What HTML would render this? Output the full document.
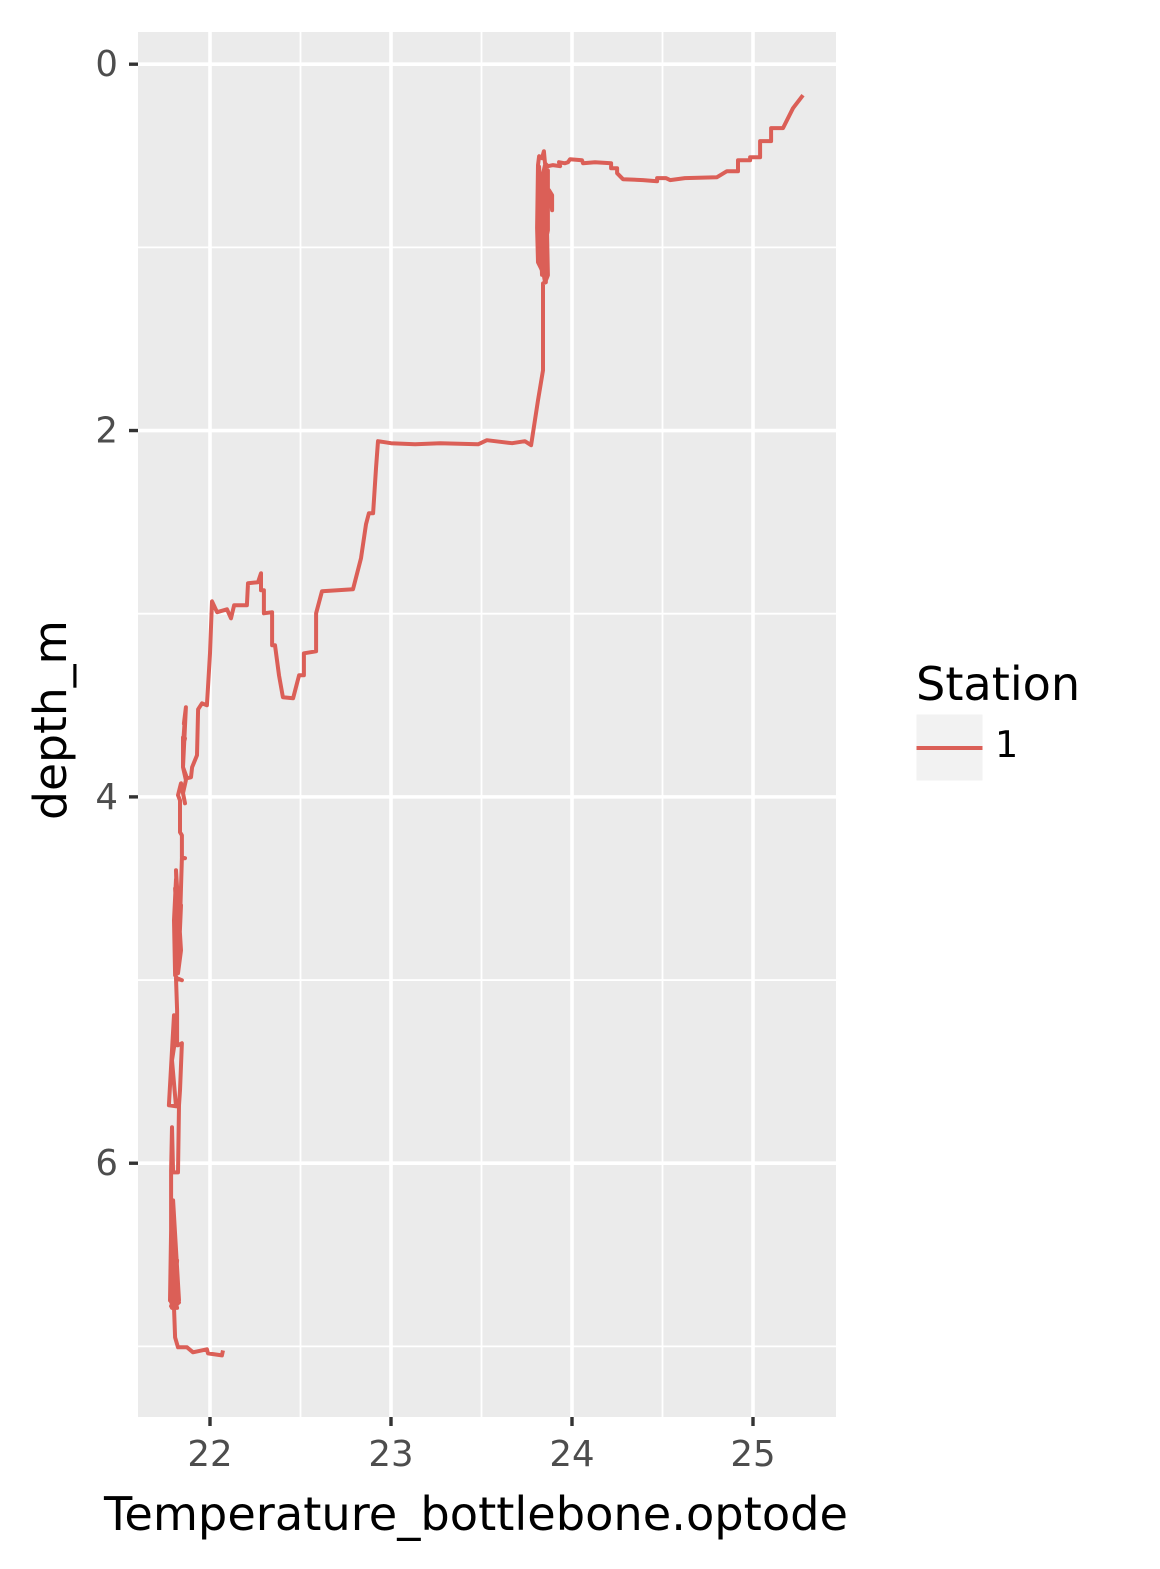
<!DOCTYPE html>
<html>
<head>
<meta charset="utf-8">
<title>Temperature vs depth</title>
<style>
html,body{margin:0;padding:0;background:#fff;}
svg{display:block;font-family:"DejaVu Sans","Liberation Sans",sans-serif;}
</style>
</head>
<body>
<svg id="chart" xmlns="http://www.w3.org/2000/svg" width="1160" height="1569" viewBox="0 0 1160 1569">
  <rect x="0" y="0" width="1160" height="1569" fill="#ffffff"/>
  <rect x="138" y="32" width="698" height="1385" fill="#ebebeb"/>
  <g id="grid"></g>
  <g id="ticks"></g>
  <polyline id="series" fill="none" stroke="#db5f57" stroke-width="4" stroke-linejoin="round" stroke-linecap="butt"/>
  <text x="476" y="1530" font-size="46.3" text-anchor="middle" fill="#000">Temperature_bottlebone.optode</text>
  <text transform="translate(66,720) rotate(-90)" font-size="45.6" text-anchor="middle" fill="#000">depth_m</text>
  <g>
    <text x="916" y="700" font-size="46.2" fill="#000">Station</text>
    <rect x="916.5" y="714.5" width="66" height="66" fill="#f2f2f2"/>
    <line x1="916.5" x2="982.5" y1="748" y2="748" stroke="#db5f57" stroke-width="4"/>
    <text x="995" y="757" font-size="36.5" fill="#000">1</text>
  </g>
</svg>
<script>
const xTicks = [22, 23, 24, 25];
const xMinorTicks = [22.5, 23.5, 24.5];
const yTicks = [0, 2, 4, 6];
const yMinorTicks = [1, 3, 5, 7];
const temperature = [
25.276,25.221,25.166,25.100,25.100,25.039,25.039,24.984,24.984,24.917,24.917,24.856,24.801,24.624,24.542,24.519,24.470,24.470,24.392,24.282,
24.249,24.249,24.216,24.216,24.127,24.061,24.055,23.989,23.978,23.961,23.928,23.934,23.895,23.867,23.851,23.845,23.834,23.818,23.812,23.807,
23.812,23.829,23.856,23.867,23.862,23.856,23.873,23.890,23.890,23.884,23.867,23.856,23.845,23.829,23.823,23.840,23.851,23.862,23.856,23.851,
23.840,23.845,23.834,23.840,23.829,23.834,23.818,23.829,23.812,23.823,23.818,23.834,23.840,23.851,
23.867,23.867,23.845,23.856,23.840,23.840,23.840,23.812,23.774,23.740,23.669,23.575,23.530,23.481,23.271,23.133,23.000,22.928,22.917,22.901,
22.878,22.862,22.834,22.790,22.619,22.586,22.586,22.519,22.519,22.492,22.459,22.403,22.381,22.359,22.343,22.343,22.298,22.298,22.282,22.282,
22.265,22.210,22.204,22.133,22.116,22.094,22.039,22.011,22.000,21.989,21.983,21.956,21.934,21.928,21.901,21.895,21.873,21.851,21.867,
21.856,21.862,21.851,21.862,21.851,
21.851,21.867,21.851,21.862,21.840,21.823,21.834,21.834,21.845,21.845,21.862,21.845,21.834,21.840,21.823,21.840,21.812,
21.818,21.807,21.823,21.805,21.829,21.807,21.829,21.812,
21.801,21.807,21.818,
21.845,21.812,21.818,21.818,21.801,21.790,21.773,21.812,21.790,21.807,21.823,21.845,21.834,21.829,21.823,21.796,21.790,21.785,21.785,21.779,
21.801,21.785,21.807,21.790,21.818,21.801,21.829,21.796,21.823,21.790,21.812,
21.790,21.816,21.785,21.825,21.796,21.820,21.785,21.829,21.790,21.818,
21.801,21.807,21.823,21.873,21.906,21.983,21.989,22.066,22.072
];
const depth = [
0.169,0.240,0.349,0.349,0.420,0.420,0.508,0.508,0.524,0.524,0.584,0.584,0.617,0.622,0.633,0.622,0.622,0.639,0.633,0.628,
0.595,0.568,0.568,0.541,0.535,0.541,0.524,0.519,0.535,0.541,0.535,0.557,0.551,0.557,0.541,0.475,0.513,0.502,0.551,0.895,
1.081,1.114,1.179,1.152,0.906,0.721,0.688,0.715,0.797,0.721,0.699,0.770,0.606,0.633,0.961,1.125,1.190,1.125,0.852,0.551,
0.600,0.950,0.700,1.050,0.850,1.150,0.650,1.000,0.800,1.100,0.560,0.900,1.140,0.600,
0.579,0.906,1.016,1.190,1.196,1.354,1.671,1.835,2.080,2.058,2.069,2.058,2.053,2.075,2.069,2.075,2.069,2.058,2.206,2.452,
2.452,2.512,2.697,2.867,2.877,2.998,3.205,3.216,3.336,3.336,3.462,3.456,3.336,3.172,3.172,2.992,2.998,2.872,2.872,2.779,
2.828,2.834,2.954,2.954,3.025,2.976,2.992,2.932,3.216,3.402,3.500,3.489,3.522,3.773,3.838,3.893,3.898,3.838,3.511,
3.600,3.560,3.720,3.680,3.675,
3.838,3.909,3.980,4.035,3.926,3.991,4.019,4.193,4.210,4.330,4.335,4.335,4.674,4.592,4.963,4.838,4.401,
4.620,4.500,4.800,4.700,4.900,4.850,4.600,4.450,
4.674,4.974,4.990,
5.001,4.990,5.165,5.356,5.192,5.384,5.684,5.689,5.438,5.329,5.356,5.345,5.602,5.684,6.050,6.050,5.804,6.039,6.366,6.749,
6.421,6.759,6.476,6.776,6.530,6.765,6.749,6.203,6.759,6.284,6.770,
6.450,6.780,6.600,6.740,6.550,6.700,6.780,6.760,6.790,6.790,
6.787,6.951,7.005,7.005,7.032,7.016,7.038,7.049,7.022
];

const NS = 'http://www.w3.org/2000/svg';
const panel = { left: 138, right: 836, top: 32, bottom: 1417 };
function xScale(v) { return 210 + (v - 22) * 181; }
function yScale(v) { return 64.2 + v * 183.17; }

const grid = document.getElementById('grid');
const tickGroup = document.getElementById('ticks');

function makeLine(parent, x1, y1, x2, y2, stroke, width) {
  const l = document.createElementNS(NS, 'line');
  l.setAttribute('x1', x1);
  l.setAttribute('y1', y1);
  l.setAttribute('x2', x2);
  l.setAttribute('y2', y2);
  l.setAttribute('stroke', stroke);
  l.setAttribute('stroke-width', width);
  parent.appendChild(l);
  return l;
}
function makeText(x, y, str, anchor) {
  const t = document.createElementNS(NS, 'text');
  t.setAttribute('x', x);
  t.setAttribute('y', y);
  t.setAttribute('font-size', '35.5');
  t.setAttribute('fill', '#4d4d4d');
  t.setAttribute('text-anchor', anchor);
  t.textContent = str;
  tickGroup.appendChild(t);
  return t;
}

xMinorTicks.forEach(function (v) {
  const l = makeLine(grid, xScale(v), panel.top, xScale(v), panel.bottom, '#ffffff', 1.8);
  
  
});
yMinorTicks.forEach(function (v) {
  const l = makeLine(grid, panel.left, yScale(v), panel.right, yScale(v), '#ffffff', 1.8);
  
  
});
xTicks.forEach(function (v) {
  const l = makeLine(grid, xScale(v), panel.top, xScale(v), panel.bottom, '#ffffff', 3.6);
  
  
  const m = makeLine(tickGroup, xScale(v), panel.bottom, xScale(v), panel.bottom + 9, '#333333', 3.4);
  
  
  const t = makeText(xScale(v), 1466, String(v), 'middle');
  
  
});
yTicks.forEach(function (v) {
  const l = makeLine(grid, panel.left, yScale(v), panel.right, yScale(v), '#ffffff', 3.6);
  
  
  const m = makeLine(tickGroup, panel.left - 9, yScale(v), panel.left, yScale(v), '#333333', 3.4);
  
  
  const t = makeText(118, yScale(v) + 12, String(v), 'end');
  
  
});

const pts = temperature.map(function (t, i) {
  return xScale(t).toFixed(1) + ',' + yScale(depth[i]).toFixed(1);
});
document.getElementById('series').setAttribute('points', pts.join(' '));
</script>
</body>
</html>
